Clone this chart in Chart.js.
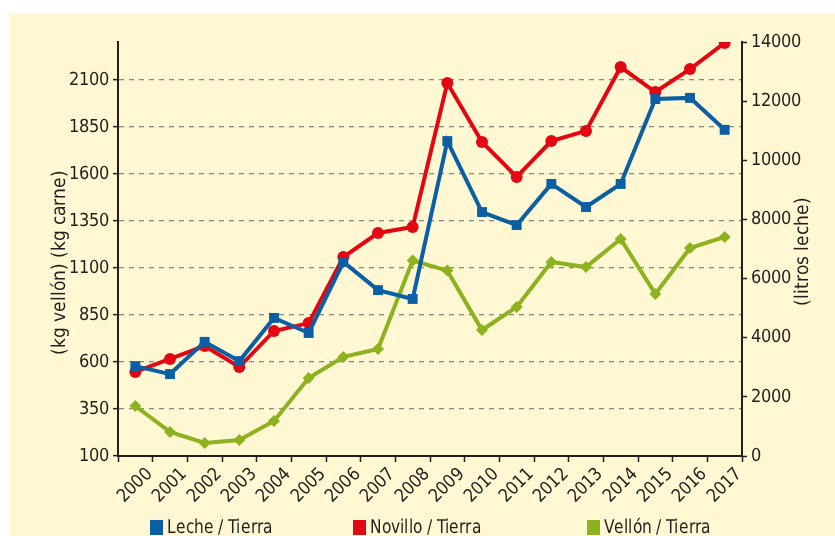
<!DOCTYPE html>
<html>
<head>
<meta charset="utf-8">
<script src="https://cdn.jsdelivr.net/npm/chart.js@4"></script>
<style>
  @font-face {
    font-family: 'CondSans';
    src: local('Liberation Sans Narrow'), local('LiberationSansNarrow-Regular'),
         local('DejaVu Sans Condensed'), local('DejaVuSansCondensed');
  }
  html, body { margin: 0; padding: 0; background: #fff; overflow: hidden; }
  #wrap { position: relative; width: 835px; height: 536px; }
  #panel { position: absolute; left: 10px; top: 13px; right: 0; bottom: 0; background: #fff8d2; }
  #c { position: absolute; left: 0; top: 0; }
  .lg { position: absolute; top: 515px; font: 19px 'CondSans', 'Roboto', sans-serif; color: #231f20; white-space: nowrap; }
  .lg i { display: inline-block; width: 13px; height: 15px; margin-right: 4px; vertical-align: -2px; }
  .lg span { display: inline-block; transform: scaleX(0.9); transform-origin: left center; }
</style>
</head>
<body>
<div id="wrap">
  <div id="panel"></div>
  <canvas id="c" width="835" height="536"></canvas>
  <div class="lg" style="left:150px"><i style="background:#0a5fa5"></i><span>Leche / Tierra</span></div>
  <div class="lg" style="left:353px"><i style="background:#e30613"></i><span>Novillo / Tierra</span></div>
  <div class="lg" style="left:587px"><i style="background:#8db21f"></i><span>Vellón / Tierra</span></div>
</div>
<script>
const years = ['2000', '2001', '2002', '2003', '2004', '2005', '2006', '2007', '2008',
    '2009', '2010', '2011', '2012', '2013', '2014', '2015', '2016', '2017'];

// litros leche por hectárea (eje derecho)
const lecheTierra = [3040, 2770, 3860, 3210, 4670, 4160, 6560, 5610, 5310,
    10650, 8250, 7810, 9200, 8420, 9200, 12070, 12110, 11030];

// kg carne por hectárea (eje izquierdo)
const novilloTierra = [547, 616, 685, 573, 765, 807, 1158, 1286, 1318,
    2084, 1770, 1584, 1775, 1829, 2169, 2036, 2158, 2297];

// kg vellón por hectárea (eje izquierdo)
const vellonTierra = [366, 228, 169, 185, 286, 515, 627, 669, 1140,
    1086, 770, 893, 1132, 1105, 1254, 962, 1206, 1265];

const leftTicks = [100, 350, 600, 850, 1100, 1350, 1600, 1850, 2100];
const rightTicks = [0, 2000, 4000, 6000, 8000, 10000, 12000, 14000];

const FONT = "'CondSans', 'Roboto', sans-serif";
const INK = '#231f20';

// axis titles read bottom-to-top on both sides
const axisTitles = {
    id: 'axisTitles',
    afterDraw(chart) {
        const { ctx, chartArea } = chart;
        const mid = (chartArea.top + chartArea.bottom) / 2;
        ctx.save();
        ctx.fillStyle = INK;
        ctx.font = '19px ' + FONT;
        ctx.textAlign = 'center';
        ctx.textBaseline = 'middle';
        [[60, mid + 13, '(kg vellón) (kg carne)'], [803, mid + 2, '(litros leche)']].forEach(([x, y, t]) => {
            ctx.save();
            ctx.translate(x, y);
            ctx.rotate(-Math.PI / 2);
            ctx.fillText(t, 0, 0);
            ctx.restore();
        });
        ctx.restore();
    }
};

function draw() {
    const ctx = document.getElementById('c').getContext('2d');
    new Chart(ctx, {
        type: 'line',
        data: {
            labels: years,
            datasets: [
                {
                    label: 'Leche / Tierra',
                    data: lecheTierra,
                    yAxisID: 'yR',
                    borderColor: '#0a5fa5',
                    backgroundColor: '#0a5fa5',
                    borderWidth: 4,
                    pointStyle: 'rect',
                    pointRadius: 7,
                    pointBorderWidth: 0,
                    tension: 0
                },
                {
                    label: 'Novillo / Tierra',
                    data: novilloTierra,
                    yAxisID: 'yL',
                    borderColor: '#e30613',
                    backgroundColor: '#e30613',
                    borderWidth: 4,
                    pointStyle: 'circle',
                    pointRadius: 6,
                    pointBorderWidth: 0,
                    tension: 0
                },
                {
                    label: 'Vellón / Tierra',
                    data: vellonTierra,
                    yAxisID: 'yL',
                    borderColor: '#8db21f',
                    backgroundColor: '#8db21f',
                    borderWidth: 4,
                    pointStyle: 'rectRot',
                    pointRadius: 6,
                    pointBorderWidth: 0,
                    tension: 0
                }
            ]
        },
        plugins: [axisTitles],
        options: {
            responsive: false,
            animation: false,
            devicePixelRatio: 1,
            layout: { padding: { top: 42, left: 0, right: 0, bottom: 0 } },
            plugins: {
                legend: { display: false },
                tooltip: { enabled: false }
            },
            scales: {
                x: {
                    offset: true,
                    afterFit: (s) => { s.height = 80; },
                    grid: { offset: true, drawOnChartArea: false, tickLength: 6, tickColor: INK, tickWidth: 1.5 },
                    border: { color: INK, width: 2 },
                    ticks: {
                        font: { family: FONT, size: 18 },
                        color: INK,
                        autoSkip: false,
                        maxRotation: 45,
                        minRotation: 45,
                        labelOffset: 14,
                        padding: 2
                    }
                },
                yL: {
                    position: 'left',
                    min: 100,
                    max: 2302,
                    afterFit: (s) => { s.width = 118; },
                    afterBuildTicks: (s) => { s.ticks = leftTicks.map(v => ({ value: v })); },
                    grid: {
                        color: (c) => c.tick && c.tick.value === 100 ? 'rgba(0,0,0,0)' : '#8a8a8a',
                        lineWidth: 1.3,
                        tickLength: 5,
                        tickColor: INK,
                        tickWidth: 1.5
                    },
                    border: { color: INK, width: 2, dash: [5, 5] },
                    ticks: {
                        font: { family: FONT, size: 18 },
                        color: INK,
                        padding: 4,
                        callback: (v) => String(v)
                    }
                },
                yR: {
                    position: 'right',
                    min: 0,
                    max: 14000,
                    afterFit: (s) => { s.width = 93; },
                    afterBuildTicks: (s) => { s.ticks = rightTicks.map(v => ({ value: v })); },
                    grid: { drawOnChartArea: false, tickLength: 5, tickColor: INK, tickWidth: 1.5 },
                    border: { color: INK, width: 2 },
                    ticks: {
                        font: { family: FONT, size: 18 },
                        color: INK,
                        padding: 4,
                        callback: (v) => String(v)
                    }
                }
            }
        }
    });
}

document.fonts.load('18px CondSans').then(draw, draw);
</script>
</body>
</html>
